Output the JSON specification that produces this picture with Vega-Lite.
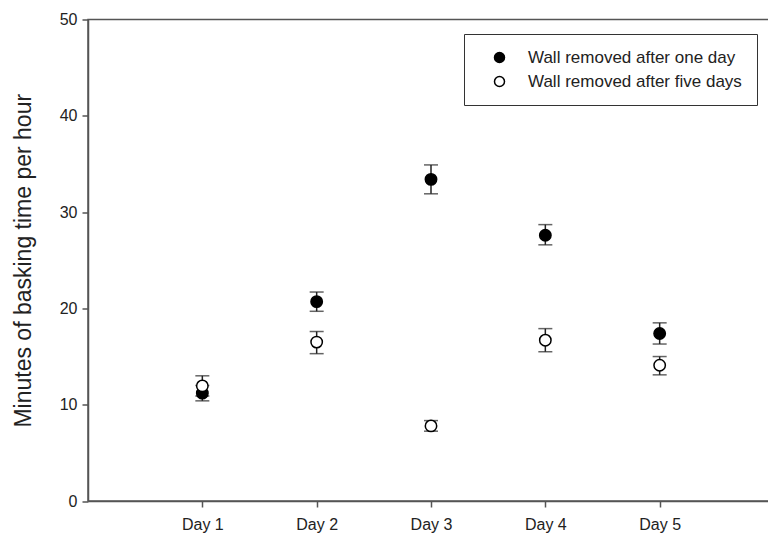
{
  "$schema": "https://vega.github.io/schema/vega-lite/v6.json",
  "width": 686,
  "height": 481.5,
  "autosize": {"type": "none"},
  "padding": {"left": 88, "top": 19.5, "right": 0, "bottom": 45},
  "background": "white",
  "config": {
    "view": {"stroke": "#555", "strokeWidth": 1.5},
    "font": "Liberation Sans",
    "axis": {
      "domainColor": "#555",
      "domainWidth": 1.5,
      "tickColor": "#555",
      "tickWidth": 1.5,
      "tickSize": 6,
      "labelColor": "#222",
      "labelFont": "Liberation Sans",
      "labelFontSize": 16,
      "titleFont": "Liberation Sans",
      "titleColor": "#222",
      "titleFontWeight": "normal",
      "grid": false
    }
  },
  "data": {
    "values": [
      {"day": 1, "series": "Wall removed after one day", "mean": 11.2, "lo": 10.4, "hi": 12.0},
      {"day": 2, "series": "Wall removed after one day", "mean": 20.7, "lo": 19.7, "hi": 21.7},
      {"day": 3, "series": "Wall removed after one day", "mean": 33.4, "lo": 31.9, "hi": 34.9},
      {"day": 4, "series": "Wall removed after one day", "mean": 27.6, "lo": 26.6, "hi": 28.7},
      {"day": 5, "series": "Wall removed after one day", "mean": 17.4, "lo": 16.3, "hi": 18.5},
      {"day": 1, "series": "Wall removed after five days", "mean": 11.95, "lo": 10.9, "hi": 13.0},
      {"day": 2, "series": "Wall removed after five days", "mean": 16.5, "lo": 15.3, "hi": 17.6},
      {"day": 3, "series": "Wall removed after five days", "mean": 7.8, "lo": 7.25, "hi": 8.35},
      {"day": 4, "series": "Wall removed after five days", "mean": 16.7, "lo": 15.5, "hi": 17.9},
      {"day": 5, "series": "Wall removed after five days", "mean": 14.1, "lo": 13.1, "hi": 15.0}
    ]
  },
  "encoding": {
    "x": {
      "field": "day",
      "type": "quantitative",
      "scale": {"domain": [0, 6], "nice": false, "zero": false},
      "axis": {
        "title": null,
        "values": [1, 2, 3, 4, 5],
        "labelExpr": "'Day ' + datum.value",
        "labelPadding": 9
      }
    }
  },
  "layer": [
    {
      "mark": {"type": "rule", "color": "#222", "strokeWidth": 1.5},
      "encoding": {
        "y": {"field": "lo", "type": "quantitative", "scale": {"domain": [0, 50], "nice": false}},
        "y2": {"field": "hi"}
      }
    },
    {
      "mark": {"type": "tick", "orient": "horizontal", "color": "#222", "thickness": 1.5, "size": 14},
      "encoding": {"y": {"field": "lo", "type": "quantitative"}}
    },
    {
      "mark": {"type": "tick", "orient": "horizontal", "color": "#222", "thickness": 1.5, "size": 14},
      "encoding": {"y": {"field": "hi", "type": "quantitative"}}
    },
    {
      "mark": {"type": "point", "shape": "circle", "filled": true, "stroke": "black", "strokeWidth": 1.5, "size": 130, "opacity": 1},
      "encoding": {
        "y": {
          "field": "mean",
          "type": "quantitative",
          "scale": {"domain": [0, 50], "nice": false},
          "axis": {
            "title": "Minutes of basking time per hour",
            "titleFontSize": 23,
            "titlePadding": 24,
            "values": [0, 10, 20, 30, 40, 50],
            "labelPadding": 5
          }
        },
        "fill": {
          "field": "series",
          "type": "nominal",
          "scale": {"domain": ["Wall removed after one day", "Wall removed after five days"], "range": ["black", "white"]},
          "legend": {
            "title": null,
            "orient": "none",
            "legendX": 376,
            "legendY": 14.5,
            "strokeColor": "#333",
            "fillColor": "white",
            "padding": 15,
            "symbolOffset": 12,
            "symbolType": "circle",
            "symbolSize": 100,
            "symbolStrokeColor": "black",
            "symbolStrokeWidth": 1.5,
            "labelFontSize": 17,
            "labelLimit": 400,
            "labelColor": "#222",
            "labelFont": "Liberation Sans",
            "labelOffset": 20,
            "rowPadding": 6
          }
        }
      }
    }
  ]
}
